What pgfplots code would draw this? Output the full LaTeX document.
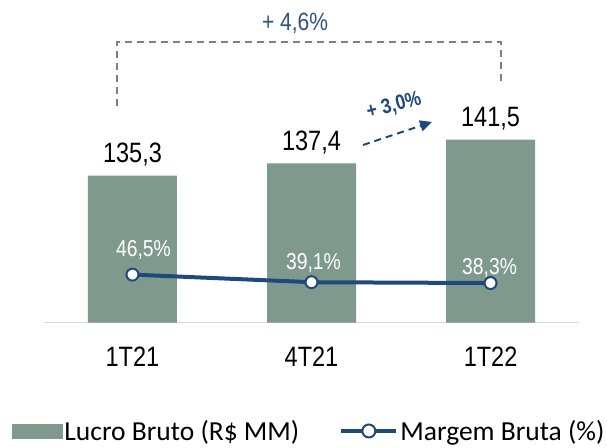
\documentclass[border=0pt]{standalone}
\usepackage{pgfplots}
\pgfplotsset{compat=1.18}
\usepackage{fontspec}
\setmainfont{Liberation Sans}
\newfontfamily\cond[FakeStretch=0.84]{Liberation Sans}
\newfontfamily\leg{Carlito}
\usetikzlibrary{arrows.meta}
\definecolor{barcol}{RGB}{127,154,141}
\definecolor{linecol}{RGB}{31,73,125}
\definecolor{txtblue}{RGB}{46,84,130}
\definecolor{axcol}{RGB}{217,217,217}
\definecolor{brk}{RGB}{128,128,128}

\pgfplotstableread{
x val
0 135.3
1 137.4
2 141.5
}\bars
\pgfplotstableread{
x val lab dx dy
0 46.5 {46,5\%} 11 11
1 39.1 {39,1\%} 2 5
2 38.3 {38,3\%} -1 1
}\margem

\begin{document}
\begin{tikzpicture}[x=1pt,y=1pt]
\useasboundingbox (0,0) rectangle (607,447);
\begin{axis}[
  at={(44pt,124.5pt)}, anchor=south west,
  scale only axis, width=535pt, height=322.5pt,
  xmin=-0.494, xmax=2.494, ymin=110, ymax=165.55,
  axis line style={draw=none},
  ytick=\empty, xtick=data, xticklabels={1T21,4T21,1T22},
  xticklabel style={font=\cond\fontsize{28}{30}\selectfont, yshift=-21pt},
  major tick length=0pt,
  clip=false,
  /pgf/number format/assume math mode=true,
]
\draw[axcol, line width=1.5pt] (rel axis cs:0,0) -- (rel axis cs:1,0);
\addplot[ybar, bar width=89pt, fill=barcol, draw=none,
  nodes near coords={\pgfmathprintnumber[fixed, fixed zerofill, precision=1, use comma, assume math mode=true]{\pgfplotspointmeta}},
  every node near coord/.append style={font=\cond\fontsize{28}{30}\selectfont, text=black, anchor=base, yshift=13pt}]
  table[x=x, y=val] {\bars};
\end{axis}
\begin{axis}[
  at={(44pt,124.5pt)}, anchor=south west,
  scale only axis, width=535pt, height=322.5pt,
  xmin=-0.494, xmax=2.494, ymin=0, ymax=313,
  axis lines=none, clip=false,
  legend columns=2,
  legend style={at={(-0.0598,-0.3364)}, anchor=west, draw=none, fill=none,
    inner sep=0pt, outer sep=0pt,
    font=\leg\fontsize{27.5}{29}\selectfont,
    /tikz/every even column/.append style={column sep=38pt}},
  legend cell align=left,
]
\addlegendimage{legend image code/.code={\fill[barcol] (0pt,-7pt) rectangle (50pt,7pt);}}
\addlegendentry{Lucro Bruto (R\$ MM)}
\addplot[linecol, line width=4pt, mark=*, mark size=6pt,
  mark options={fill=white, draw=linecol, line width=2pt},
  legend image code/.code={\draw[linecol, line width=4pt] (0pt,0pt) -- (55pt,0pt);
     \draw[fill=white, draw=linecol, line width=2pt] (27.5pt,0pt) circle (6.5pt);},
  visualization depends on={\thisrow{dx} \as \dx},
  visualization depends on={\thisrow{dy} \as \dy},
  point meta=explicit symbolic,
  nodes near coords,
  every node near coord/.append style={font=\cond\fontsize{23}{25}\selectfont, text=white, anchor=south, xshift=\dx pt, yshift=\dy pt}]
  table[x=x, y=val, meta=lab] {\margem};
\addlegendentry{Margem Bruta (\%)}
\end{axis}
% bracket
\draw[brk, line width=1.8pt, dash pattern=on 7pt off 5pt] (117,341) -- (117,405) -- (501,405) -- (501,364);
\node[text=txtblue, font=\cond\fontsize{25}{27}\selectfont] at (295,424) {+ 4,6\%};
% arrow
\draw[linecol, line width=2pt, dash pattern=on 7pt off 5pt, -{Triangle[length=12pt,width=11pt]}] (363,302) -- (432,325);
\node[text=linecol, font=\cond\bfseries\fontsize{21}{23}\selectfont, rotate=15] at (394,341) {+ 3,0\%};
\end{tikzpicture}
\end{document}
